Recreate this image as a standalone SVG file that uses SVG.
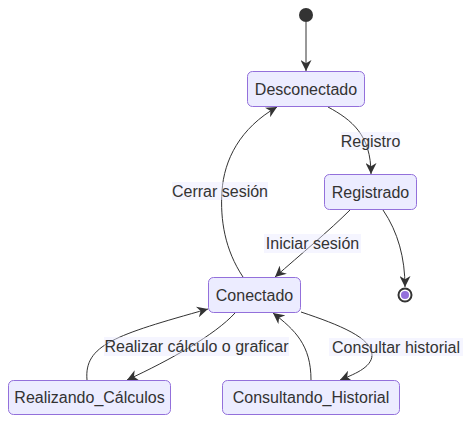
<svg xmlns="http://www.w3.org/2000/svg" width="471" height="423" viewBox="0 0 471 423">
<style>
.node rect{fill:#ECECFF;stroke:#9370DB;stroke-width:1}
text{font-family:"Liberation Sans",Arial,sans-serif;font-size:16px;fill:#333;text-anchor:middle;dominant-baseline:central}
.edge{fill:none;stroke:#333;stroke-width:1}
.lbl rect{fill:#E8E8FF;fill-opacity:0.45}
</style>
<defs>
<marker id="arr" viewBox="0 0 10 10" refX="10" refY="5" markerWidth="11" markerHeight="11" markerUnits="userSpaceOnUse" orient="auto">
<path d="M0,0 L10,5 L0,10 L3,5 z" fill="#333"/>
</marker>
</defs>
<rect width="471" height="423" fill="#fff"/>
<g id="connectors">
<path class="edge" d="M306,22 L306,71" marker-end="url(#arr)"/>
<path class="edge" d="M328,107 C352,120 371,135 371,174" marker-end="url(#arr)"/>
<path class="edge" d="M243,277 C225,250 220,220 222,191 C224,160 240,128 277,107" marker-end="url(#arr)"/>
<path class="edge" d="M350,210 C330,230 300,255 275,277" marker-end="url(#arr)"/>
<path class="edge" d="M383,210 C398,232 405,258 405,287" marker-end="url(#arr)"/>
<path class="edge" d="M235,313 C215,335 170,360 127,380" marker-end="url(#arr)"/>
<path class="edge" d="M87,380 C84,345 115,335 208,309" marker-end="url(#arr)"/>
<path class="edge" d="M301,312 C340,325 372,338 372,355 C372,368 352,375 340,380" marker-end="url(#arr)"/>
<path class="edge" d="M311,380 C311,345 295,330 273,313" marker-end="url(#arr)"/>
</g>
<g id="labels">
<g class="lbl"><rect x="341" y="132" width="59" height="18"/><text x="370.5" y="141">Registro</text></g>
<g class="lbl"><rect x="172" y="182" width="96" height="18"/><text x="220" y="191">Cerrar sesión</text></g>
<g class="lbl"><rect x="264" y="234" width="97" height="19"/><text x="312.5" y="243.5">Iniciar sesión</text></g>
<g class="lbl"><rect x="104" y="337" width="185" height="19"/><text x="196.5" y="346.5">Realizar cálculo o graficar</text></g>
<g class="lbl"><rect x="329" y="338" width="134" height="18"/><text x="396" y="347">Consultar historial</text></g>
</g>
<g id="start"><circle cx="306" cy="15" r="7" fill="#333"/></g>
<g id="end"><circle cx="405" cy="295" r="6.5" fill="#fff" stroke="#333" stroke-width="2"/><circle cx="405" cy="295" r="4" fill="#9370DB"/></g>
<g id="Desconectado" class="node"><rect x="247.5" y="71.5" width="117" height="35" rx="5"/><text x="306" y="89">Desconectado</text></g>
<g id="Registrado" class="node"><rect x="324.5" y="174.5" width="92" height="35" rx="5"/><text x="370.5" y="192">Registrado</text></g>
<g id="Conectado" class="node"><rect x="208.5" y="277.5" width="92" height="35" rx="5"/><text x="254.5" y="295">Conectado</text></g>
<g id="Realizando_Calculos" class="node"><rect x="8.5" y="380.5" width="162" height="34" rx="5"/><text x="89.5" y="397.5">Realizando_Cálculos</text></g>
<g id="Consultando_Historial" class="node"><rect x="222.5" y="380.5" width="177" height="34" rx="5"/><text x="311" y="397.5">Consultando_Historial</text></g>
</svg>
